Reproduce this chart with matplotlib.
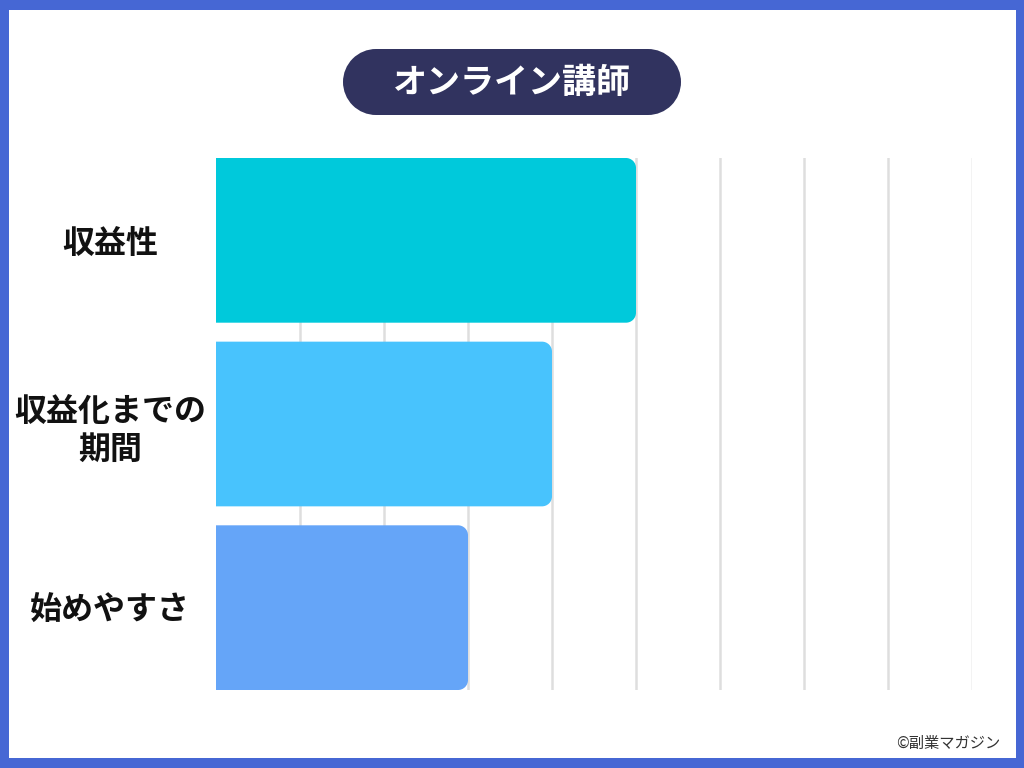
import matplotlib
matplotlib.use("Agg")
import numpy as np
import matplotlib.pyplot as plt
from matplotlib.patches import PathPatch, Rectangle
from matplotlib.path import Path
from matplotlib.transforms import IdentityTransform

plt.rcParams['font.family'] = ['Noto Sans CJK JP', 'DejaVu Sans']

title = "オンライン講師"
categories = ["収益性", "収益化までの\n期間", "始めやすさ"]
values = [5, 4, 3]
colors = ["#00c9db", "#48c3fd", "#65a5f8"]
xmax = 9
credit = "©副業マガジン"


def rounded_path(x0, y0, w, h, rx, ry, left_round=False):
    """Rectangle path with right corners (and optionally left) rounded."""
    verts, codes = [], []

    def add_arc(cx, cy, t1, t2):
        a = Path.arc(t1, t2)
        v = a.vertices.copy()
        v[:, 0] = cx + v[:, 0] * rx
        v[:, 1] = cy + v[:, 1] * ry
        c = list(a.codes)
        c[0] = Path.MOVETO if not verts else Path.LINETO
        verts.extend(v.tolist())
        codes.extend(c)

    def add_pt(x, y):
        verts.append([x, y])
        codes.append(Path.MOVETO if len(codes) == 0 else Path.LINETO)

    x1, y1 = x0 + w, y0 + h
    if left_round:
        add_arc(x0 + rx, y0 + ry, 180, 270)
    else:
        add_pt(x0, y0)
    add_arc(x1 - rx, y0 + ry, 270, 360)
    add_arc(x1 - rx, y1 - ry, 0, 90)
    if left_round:
        add_arc(x0 + rx, y1 - ry, 90, 180)
    else:
        add_pt(x0, y1)
    verts.append(verts[0])
    codes.append(Path.CLOSEPOLY)
    return Path(np.array(verts), codes)


W, H = 1024, 768
fig = plt.figure(figsize=(W / 100, H / 100), dpi=100)
fig.patch.set_facecolor("#4667d4")
fig.patches.append(Rectangle((9 / W, 10 / H), (1016 - 9) / W, (758 - 10) / H,
                             transform=fig.transFigure, facecolor="white",
                             edgecolor="none", zorder=-5))

# axes in pixel position
L, R, T, B = 216, 972, 158, 690
ax = fig.add_axes([L / W, 1 - B / H, (R - L) / W, (B - T) / H])
ax.set_facecolor("none")

n = len(categories)
h = 165 / 184
ax.set_xlim(0, xmax)
ax.set_ylim(n - 1 + h / 2, -h / 2)

for gx in range(1, xmax + 1):
    ax.axvline(gx, color="#dedede" if gx < xmax else "#f0f0f0", lw=1.8, zorder=1)

px_x = (R - L) / xmax
px_y = (B - T) / (n - 1 + h)
r_px = 10
rx = r_px / px_x
ry = r_px / px_y

for i, (v, c) in enumerate(zip(values, colors)):
    path = rounded_path(0, i - h / 2, v, h, rx, ry)
    ax.add_patch(PathPatch(path, facecolor=c, edgecolor="none", zorder=2))

ax.set_yticks(range(n))
ax.set_yticklabels(categories, fontsize=23, fontweight="bold", color="#111111",
                   ha="center", linespacing=1.25)
ax.tick_params(axis="y", length=0, pad=106 * 72 / 100)
ax.set_xticks([])
for s in ax.spines.values():
    s.set_visible(False)

# title pill
px1, px2, py1, py2 = 343, 681, 49, 115
rad = (py2 - py1) / 2
pill_path = rounded_path(px1, H - py2, px2 - px1, py2 - py1, rad, rad,
                         left_round=True)
pill = PathPatch(pill_path, facecolor="#31335f", edgecolor="none")
pill.set_transform(IdentityTransform())
fig.patches.append(pill)
fig.text((px1 + px2) / 2 / W, 1 - (py1 + py2) / 2 / H, title, ha="center",
         va="center", fontsize=24.5, fontweight="bold", color="white")

fig.text(1000 / W, 1 - 743 / H, credit, ha="right", va="center",
         fontsize=11, color="#333333")

fig.savefig("out.png", dpi=100, facecolor=fig.get_facecolor())
